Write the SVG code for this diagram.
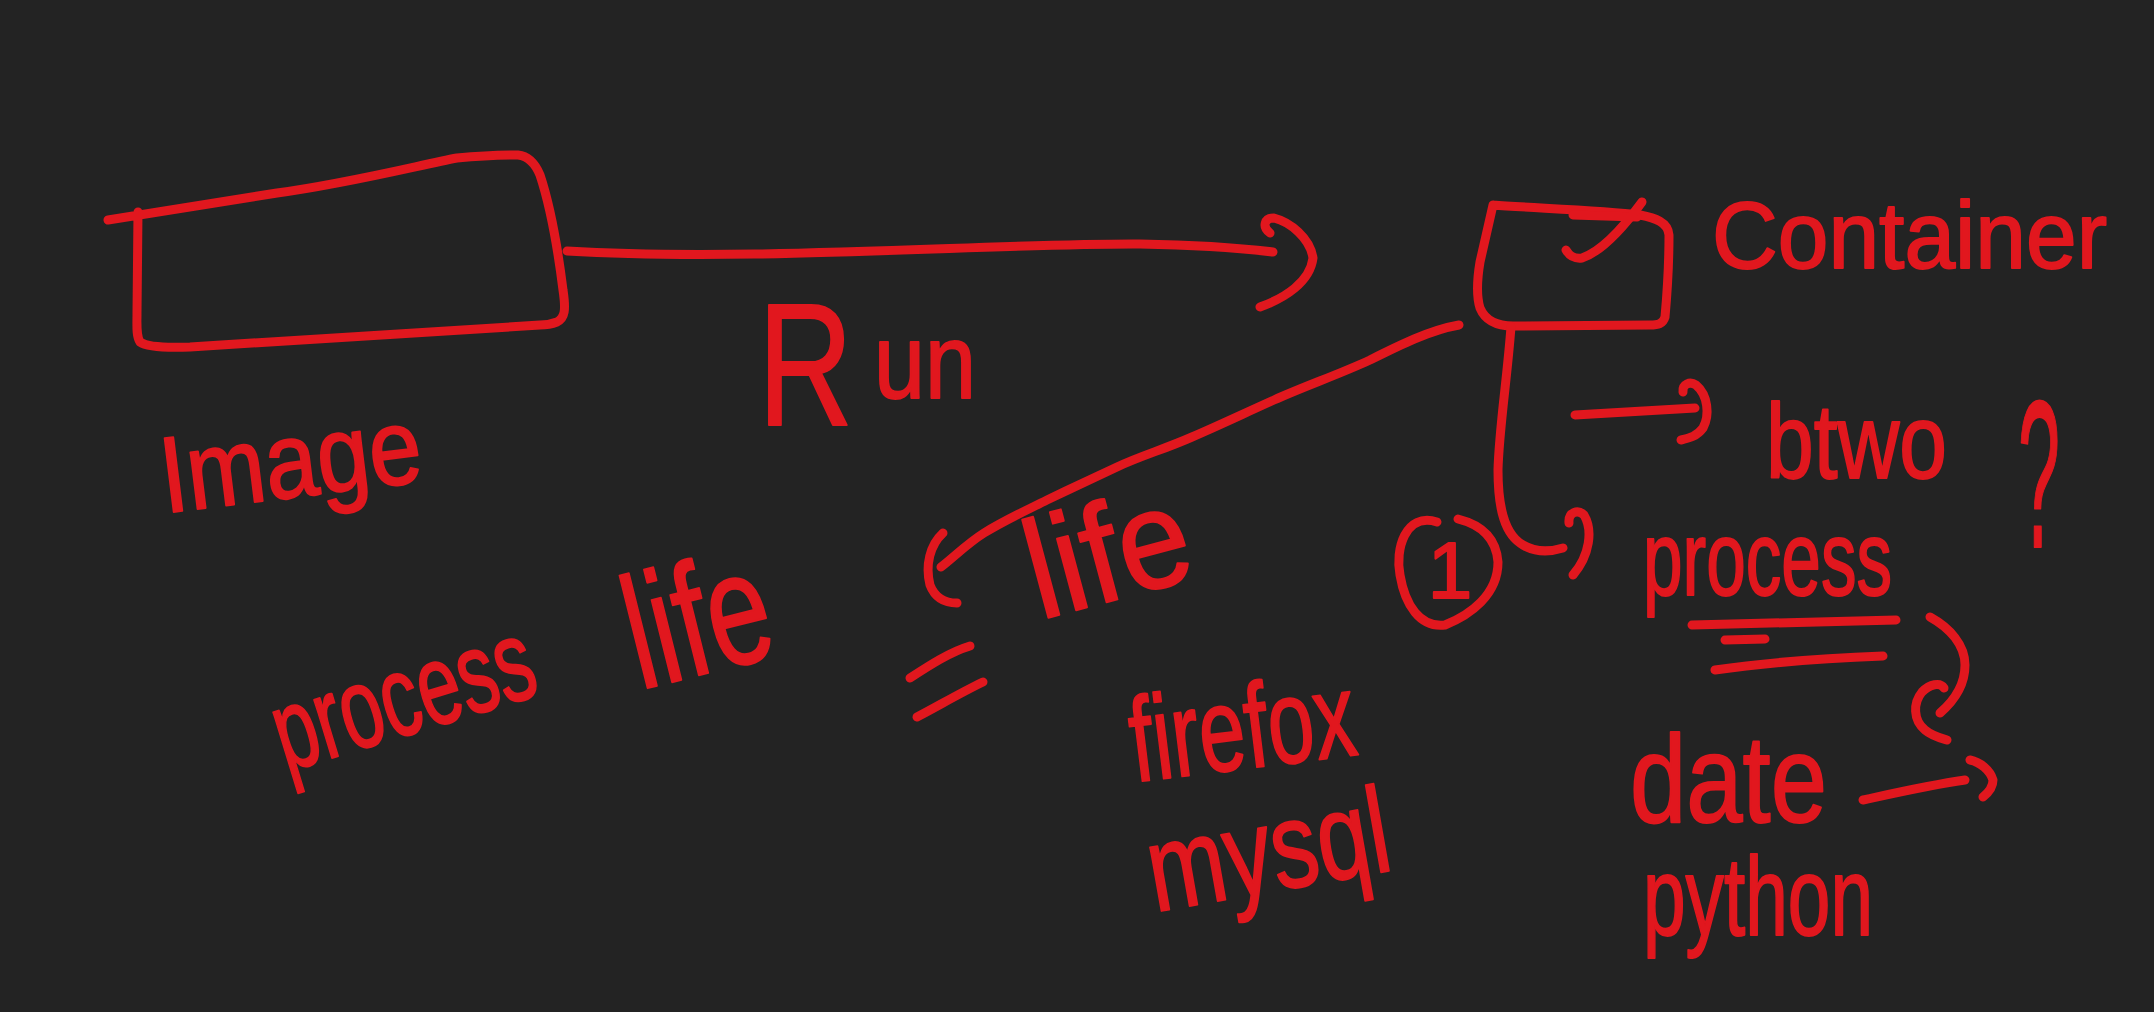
<svg xmlns="http://www.w3.org/2000/svg" width="2154" height="1012" viewBox="0 0 2154 1012">
<defs>
<style>
.ink{fill:none;stroke:#e1171e;stroke-width:9;stroke-linecap:round;stroke-linejoin:round}
.t{fill:#e1171e;stroke:#e1171e;stroke-width:2;stroke-linejoin:round;font-family:"Liberation Sans","Noto Sans",sans-serif;font-weight:normal}
</style>
</defs>
<rect x="0" y="0" width="2154" height="1012" fill="#232323"/>

<g id="image">
<path class="ink" d="M108,220 L277,193 C350,183 420,165 457,158 C490,155 510,155 518,155 C528,156 535,163 540,175 C550,205 558,250 563,290 C566,310 565,318 557,322 C552,324 545,325 540,325 L190,347 C165,348 147,347 140,342 C136,336 137,325 137,313 L138,212"/>
<text class="t" x="165" y="513" font-size="108" textLength="262" lengthAdjust="spacingAndGlyphs" transform="rotate(-7 165 513)">Image</text>
</g>

<g id="container">
<path class="ink" d="M1493,205 C1530,208 1600,210 1640,215 C1655,218 1668,222 1669,235 C1669,260 1667,295 1665,317 C1663,324 1658,325 1650,325 L1513,326 C1495,326 1485,320 1480,308 C1476,295 1477,280 1480,262 L1493,205"/>
<path class="ink" d="M1573,215 L1637,217"/>
<path class="ink" d="M1566,250 C1569,255 1573,259 1582,258 C1600,252 1620,232 1642,202"/>
<text class="t" x="1712" y="268" font-size="95" textLength="395" lengthAdjust="spacingAndGlyphs">Container</text>
</g>

<g id="connectors">
<path class="ink" d="M567,251 C750,262 1000,243 1140,244 C1200,245 1240,248 1273,252"/>
<path class="ink" d="M1270,233 C1262,227 1264,218 1274,218 C1290,222 1310,238 1313,258 C1310,282 1285,298 1260,307"/>
<path class="ink" d="M1459,325 C1430,330 1400,345 1370,360 C1340,374 1305,386 1274,400 C1245,413 1220,425 1192,437 C1165,449 1140,456 1117,467 C1092,479 1070,489 1047,500 C1025,511 1005,520 984,533 C968,543 955,556 941,567"/>
<path class="ink" d="M943,533 C930,545 925,565 930,585 C935,598 945,603 957,603"/>
<path class="ink" d="M1511,327 C1507,380 1499,430 1498,470 C1498,510 1505,535 1523,545 C1535,552 1550,552 1563,548"/>
<path class="ink" d="M1569,523 C1568,512 1578,509 1584,515 C1593,530 1590,555 1573,575"/>
<path class="ink" d="M1575,415 L1695,408"/>
<path class="ink" d="M1683,392 C1682,384 1690,381 1696,385 C1708,395 1710,415 1703,428 C1697,436 1690,438 1681,440"/>
<path class="ink" d="M1930,617 C1950,628 1965,645 1965,665 C1965,685 1955,700 1940,713"/>
<path class="ink" d="M1944,688 C1940,682 1930,684 1922,692 C1913,703 1913,720 1925,730 C1932,736 1940,738 1947,740"/>
<path class="ink" d="M1863,800 C1895,793 1930,785 1965,780"/>
<path class="ink" d="M1970,760 C1980,762 1990,770 1993,780 C1993,788 1988,793 1983,797"/>
</g>

<g id="run-label">
<text class="t" x="758" y="425" font-size="175" textLength="95" lengthAdjust="spacingAndGlyphs">R</text>
<text class="t" x="874" y="398" font-size="105" textLength="102" lengthAdjust="spacingAndGlyphs">un</text>
</g>

<g id="process-life">
<text class="t" x="286" y="772" font-size="115" textLength="268" lengthAdjust="spacingAndGlyphs" transform="rotate(-17 286 772)">process</text>
<text class="t" x="640" y="690" font-size="160" textLength="145" lengthAdjust="spacingAndGlyphs" transform="rotate(-14 640 690)">life</text>
</g>

<g id="equals">
<path class="ink" d="M910,678 C930,665 950,652 970,646"/>
<path class="ink" d="M917,717 C940,705 960,693 983,682"/>
</g>

<g id="life">
<text class="t" x="1040" y="620" font-size="140" textLength="165" lengthAdjust="spacingAndGlyphs" transform="rotate(-15 1040 620)">life</text>
</g>

<g id="examples">
<text class="t" x="1135" y="782" font-size="120" textLength="226" lengthAdjust="spacingAndGlyphs" transform="rotate(-7 1135 782)">firefox</text>
<text class="t" x="1155" y="912" font-size="122" textLength="244" lengthAdjust="spacingAndGlyphs" transform="rotate(-10 1155 912)">mysql</text>
</g>

<g id="one">
<path class="ink" d="M1437,522 C1405,512 1395,550 1400,575 C1405,605 1420,628 1445,625 C1470,615 1498,595 1498,562 C1496,535 1478,524 1458,519"/>
<text class="t" x="1450" y="598" font-size="80" text-anchor="middle">1</text>
</g>

<g id="btwo">
<text class="t" x="1766" y="478" font-size="105" textLength="181" lengthAdjust="spacingAndGlyphs">btwo</text>
<text class="t" x="2018" y="547" font-size="210" textLength="42" lengthAdjust="spacingAndGlyphs">?</text>
</g>

<g id="process">
<text class="t" x="1643" y="595" font-size="105" textLength="249" lengthAdjust="spacingAndGlyphs">process</text>
<path class="ink" d="M1692,625 L1896,620"/>
<path class="ink" d="M1725,640 L1765,639"/>
<path class="ink" d="M1715,670 C1770,662 1830,658 1883,656"/>
</g>

<g id="date">
<text class="t" x="1630" y="822" font-size="125" textLength="197" lengthAdjust="spacingAndGlyphs">date</text>
</g>

<g id="python">
<text class="t" x="1643" y="935" font-size="112" textLength="230" lengthAdjust="spacingAndGlyphs">python</text>
</g>
</svg>
